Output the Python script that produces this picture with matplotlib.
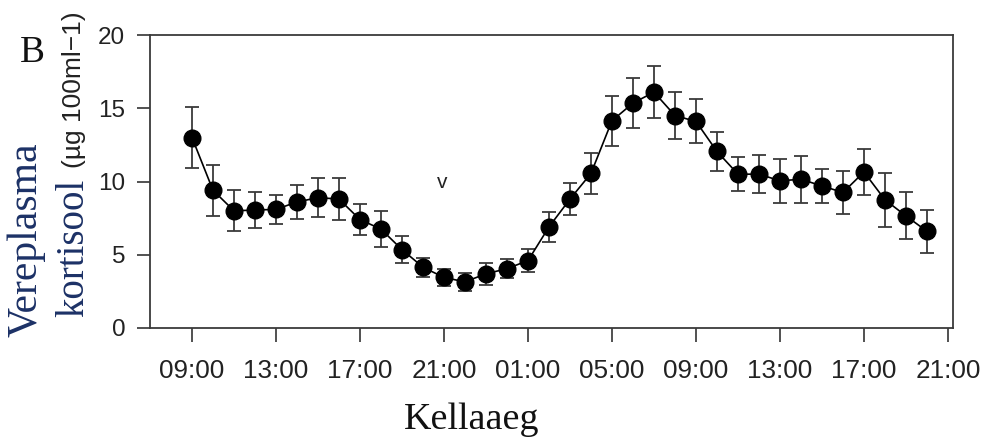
import matplotlib
matplotlib.use("Agg")
import matplotlib.pyplot as plt
import numpy as np

# Hours after 09:00 (hourly samples)
hours = list(range(36))
cortisol = [13.0, 9.4, 8.0, 8.05, 8.1, 8.6, 8.9, 8.8, 7.4, 6.75, 5.35, 4.15,
            3.45, 3.15, 3.7, 4.05, 4.6, 6.9, 8.8, 10.55, 14.15, 15.35, 16.1, 14.5,
            14.1, 12.05, 10.5, 10.5, 10.05, 10.15, 9.7, 9.25, 10.65, 8.75, 7.65, 6.6]
sem = [2.1, 1.75, 1.4, 1.25, 1.0, 1.15, 1.35, 1.45, 1.05, 1.25, 0.9, 0.65,
       0.6, 0.6, 0.75, 0.65, 0.8, 1.0, 1.1, 1.4, 1.7, 1.7, 1.75, 1.6,
       1.5, 1.35, 1.15, 1.3, 1.5, 1.6, 1.15, 1.5, 1.55, 1.85, 1.6, 1.45]
tick_hours = [0, 4, 8, 12, 16, 20, 24, 28, 32, 36]
tick_labels = ["09:00", "13:00", "17:00", "21:00", "01:00", "05:00",
               "09:00", "13:00", "17:00", "21:00"]
y_ticks = [0, 5, 10, 15, 20]

W, H = 982, 441
fig = plt.figure(figsize=(W / 100, H / 100), dpi=100)
ax = fig.add_axes([150 / W, 1 - 328 / H, (953 - 150) / W, (328 - 35) / H])

ax.errorbar(hours, cortisol, yerr=sem, fmt='o-', color='black', ecolor='#3a3a3a',
            elinewidth=1.3, capsize=5, capthick=1.3, markersize=12,
            linewidth=1.2, markerfacecolor='black', markeredgecolor='black')

ax.set_xlim(-2.0, 36.24)
ax.set_ylim(0, 20)
ax.set_xticks(tick_hours)
ax.set_xticklabels(tick_labels, fontfamily='Liberation Sans', fontsize=18.8, color='#222222')
ax.set_yticks(y_ticks)
ax.set_yticklabels([str(v) for v in y_ticks], fontfamily='Liberation Sans', fontsize=17.5,
                   color='#222222')
ax.tick_params(axis='x', direction='out', length=10, width=1.2, pad=12.5, colors='#333333',
               labelcolor='#222222')
ax.tick_params(axis='y', direction='out', length=9.4, width=1.2, pad=8.4, colors='#333333',
               labelcolor='#222222')
for s in ax.spines.values():
    s.set_color('#3a3a3a')
    s.set_linewidth(1.3)

ax.text(11.9, 9.56, "v", fontfamily='Liberation Sans', fontsize=15, ha='center',
        va='baseline', color='#222222')

navy = '#1c3166'
fig.text(20 / W, 1 - 62 / H, "B", fontfamily='Liberation Serif', fontsize=27,
         ha='left', va='baseline', color='#111111')
fig.text(37 / W, 1 - 337 / H, "Vereplasma", fontfamily='Liberation Serif', fontsize=30,
         rotation=90, rotation_mode='anchor', ha='left', va='baseline', color=navy)
fig.text(83 / W, 1 - 317 / H, "kortisool", fontfamily='Liberation Serif', fontsize=28,
         rotation=90, rotation_mode='anchor', ha='left', va='baseline', color=navy)
fig.text(81 / W, 1 - 168 / H, "(\u00b5g 100ml\u22121)", fontfamily='Liberation Sans',
         fontsize=19, rotation=90, rotation_mode='anchor', ha='left', va='baseline',
         color='#222222')
fig.text(472 / W, 12 / H, "Kellaaeg", fontfamily='Liberation Serif', fontsize=27.4,
         ha='center', va='baseline', color='#111111')

fig.savefig("out.png", dpi=100)
